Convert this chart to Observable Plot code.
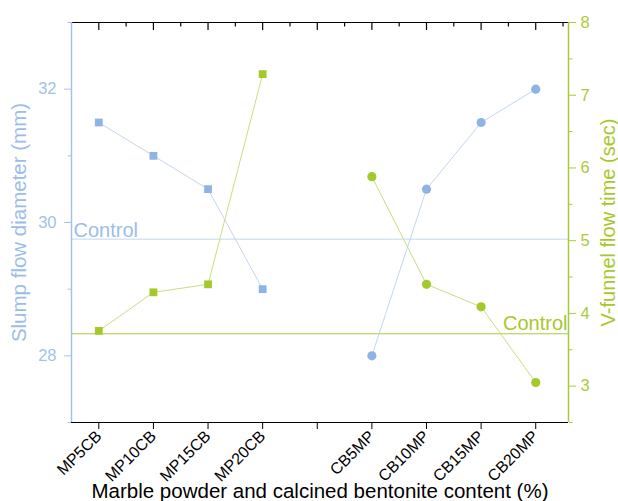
<!DOCTYPE html>
<html><head><meta charset="utf-8">
<script src="https://cdn.jsdelivr.net/npm/d3@7"></script>
<script src="https://cdn.jsdelivr.net/npm/@observablehq/plot@0.6"></script>
<style>html,body{margin:0;padding:0;background:#fff}#chart svg{display:block}</style>
</head><body><div id="chart"></div>
<script>
// ---- data ----
const mpLabels = ["MP5CB", "MP10CB", "MP15CB", "MP20CB"];
const cbLabels = ["CB5MP", "CB10MP", "CB15MP", "CB20MP"];
const slots = [...mpLabels, "", ...cbLabels];
const slumpMP = [31.5, 31.0, 30.5, 29.0];
const slumpCB = [28.0, 30.5, 31.5, 32.0];
const vfunnelMP = [3.76, 4.29, 4.40, 7.29];
const vfunnelCB = [5.88, 4.40, 4.09, 3.05];
const slumpControl = 29.75;
const vfunnelControl = 3.72;
const slumpTicks = [28, 30, 32];
const slumpMinor = [27, 29, 31, 33];
const vTicks = [3, 4, 5, 6, 7, 8];
const vMinor = [2.5, 3.5, 4.5, 5.5, 6.5, 7.5];

// ---- styling ----
const BLUE = "#8eb4e3", BLUE_AXIS = "#a3c2ea", BLUE_LINE = "#c3d6f0";
const GREEN = "#a5c92b", GREEN_AXIS = "#a9cb3a", GREEN_LINE = "#c8de84";
const FONT = "Liberation Sans, Arial, Helvetica, sans-serif";

const yDomain = [27, 33];
const vDomain = [2.5, 8];
const v2y = d3.scaleLinear(vDomain, yDomain); // secondary axis mapped onto primary
const pos = l => slots.indexOf(l) + 1;
const rows = (labels, vals) => labels.map((l, i) => ({label: l, x: pos(l), v: vals[i]}));

const sMP = rows(mpLabels, slumpMP), sCB = rows(cbLabels, slumpCB);
const vMP = rows(mpLabels, vfunnelMP), vCB = rows(cbLabels, vfunnelCB);
const slotIdx = d3.range(1, slots.length + 1);
const minorIdx = d3.range(1.5, slots.length + 1, 1);

// a plain tick shape for inward top ticks
const tickShape = {draw(context, l) { context.moveTo(0, 0); context.lineTo(0, -l); }};

const chart = Plot.plot({
  width: 618, height: 501,
  marginLeft: 71, marginRight: 50, marginTop: 22, marginBottom: 79,
  style: {fontFamily: FONT, background: "#fff", overflow: "visible"},
  x: {domain: [0.5, 9.6]},
  y: {domain: yDomain},
  marks: [
    // frame top & bottom
    Plot.ruleY([yDomain[1], yDomain[0]], {stroke: "#000", strokeWidth: 1.2}),
    // control lines
    Plot.ruleY([slumpControl], {stroke: BLUE_LINE, strokeWidth: 1}),
    Plot.ruleY([vfunnelControl], {y: d => v2y(d), stroke: GREEN_AXIS, strokeWidth: 1}),
    Plot.text([slumpControl], {y: d => d, text: () => "Control", frameAnchor: "left", textAnchor: "start", lineAnchor: "bottom", dx: 2, dy: -2.6, fill: "#9dbde8", fontSize: 20}),
    Plot.text([vfunnelControl], {y: d => v2y(d), text: () => "Control", frameAnchor: "right", textAnchor: "end", lineAnchor: "bottom", dx: -1, dy: -4, fill: GREEN, fontSize: 20}),
    // series lines
    Plot.line(sMP, {x: "x", y: "v", stroke: BLUE_LINE, strokeWidth: 1}),
    Plot.line(sCB, {x: "x", y: "v", stroke: BLUE_LINE, strokeWidth: 1}),
    Plot.line(vMP, {x: "x", y: d => v2y(d.v), stroke: GREEN_LINE, strokeWidth: 1}),
    Plot.line(vCB, {x: "x", y: d => v2y(d.v), stroke: GREEN_LINE, strokeWidth: 1}),
    // points
    Plot.dot(sMP, {x: "x", y: "v", symbol: "square", r: 4.4, fill: BLUE}),
    Plot.dot(sCB, {x: "x", y: "v", symbol: "circle", r: 4.6, fill: BLUE}),
    Plot.dot(vMP, {x: "x", y: d => v2y(d.v), symbol: "square", r: 4.4, fill: GREEN}),
    Plot.dot(vCB, {x: "x", y: d => v2y(d.v), symbol: "circle", r: 4.6, fill: GREEN}),
    // bottom axis
    Plot.axisX(slotIdx, {anchor: "bottom", tickSize: 7, tickPadding: 4, tickRotate: -45, tickFormat: i => slots[i - 1], fontSize: 16, color: "#000", label: null}),
    // top inward ticks
    Plot.vectorX(slotIdx, {x: d => d, frameAnchor: "top", length: 7, rotate: 180, anchor: "start", shape: tickShape, stroke: "#000", strokeWidth: 1.2}),
    Plot.vectorX(minorIdx, {x: d => d, frameAnchor: "top", length: 3.5, rotate: 180, anchor: "start", shape: tickShape, stroke: "#000", strokeWidth: 1.2}),
    // left axis
    Plot.axisY(slumpTicks, {anchor: "left", tickSize: 7, tickPadding: 8, tickFormat: d => String(d), color: BLUE_AXIS, fontSize: 16.5, label: null}),
    Plot.axisY(slumpMinor, {anchor: "left", tickSize: 3.5, fill: "none", stroke: BLUE_AXIS, label: null}),
    // right axis
    Plot.axisY(vTicks.map(v2y), {anchor: "right", tickSize: 7, tickPadding: 5, tickFormat: d => String(Math.round(v2y.invert(d))), color: GREEN_AXIS, fontSize: 16.5, label: null}),
    Plot.axisY(vMinor.map(v2y), {anchor: "right", tickSize: 3.5, fill: "none", stroke: GREEN_AXIS, label: null}),
    // axis lines
    Plot.ruleX([0.5], {stroke: BLUE_AXIS, strokeWidth: 1.5}),
    Plot.ruleX([9.6], {stroke: GREEN_AXIS, strokeWidth: 1.5}),
    // axis titles
    Plot.text(["Slump flow diameter (mm)"], {text: d => d, frameAnchor: "left", dx: -52.5, rotate: -90, textAnchor: "middle", lineAnchor: "middle", fill: "#9dbde8", fontSize: 20.5}),
    Plot.text(["V-funnel flow time (sec)"], {text: d => d, frameAnchor: "right", dx: 40, rotate: -90, textAnchor: "middle", lineAnchor: "middle", fill: GREEN, fontSize: 20}),
    Plot.text(["Marble powder and calcined bentonite content (%)"], {text: d => d, frameAnchor: "bottom", dy: 68.5, textAnchor: "middle", lineAnchor: "middle", fill: "#000", fontSize: 20.5})
  ]
});
document.getElementById("chart").appendChild(chart);
</script>
</body></html>
